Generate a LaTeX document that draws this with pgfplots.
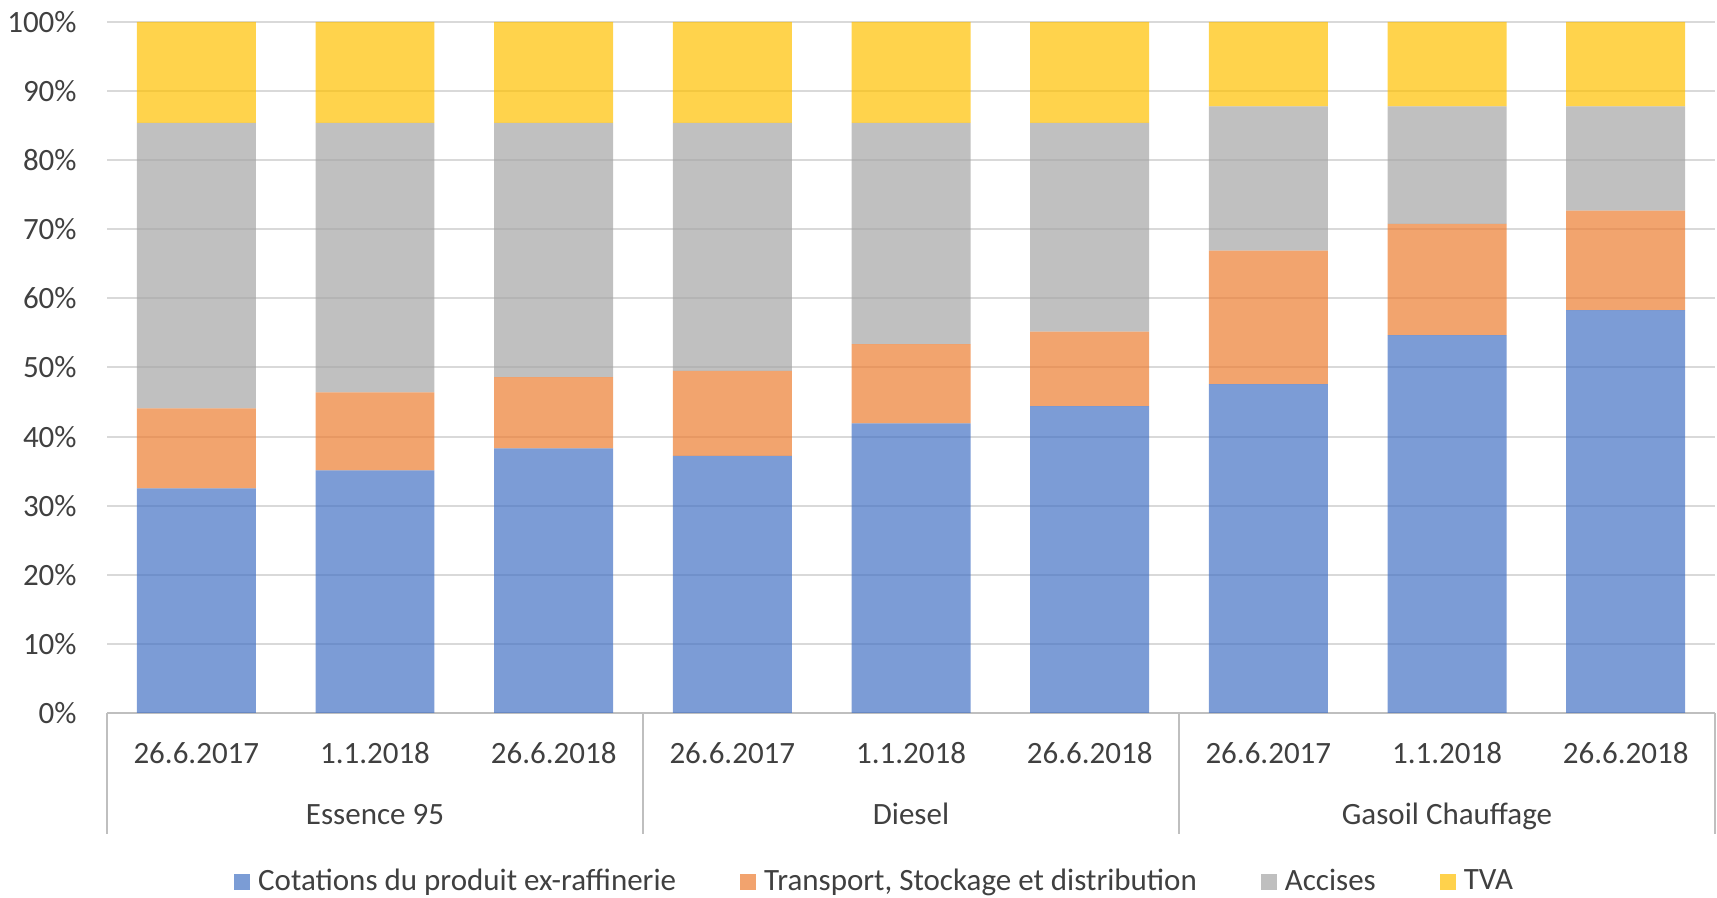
\documentclass[border=0pt]{standalone}
\usepackage{fontspec}
\setmainfont{Carlito}
\usepackage{pgfplots}
\usepackage{pgfplotstable}
\pgfplotsset{compat=1.18}
\usetikzlibrary{calc}

\definecolor{cblue}{HTML}{4472C4}
\definecolor{corange}{HTML}{ED7D31}
\definecolor{cgray}{HTML}{A5A5A5}
\definecolor{cyellow}{HTML}{FFC000}
\definecolor{gridc}{HTML}{D9D9D9}
\definecolor{axisc}{HTML}{BFBFBF}
\definecolor{txt}{HTML}{404040}

% shares in percent, stacked bottom to top
\pgfplotstableread{
x  cot   trans  acc   tva
0  32.5  11.6   41.3  14.6
1  35.1  11.3   39.0  14.6
2  38.3  10.3   36.8  14.6
3  37.2  12.3   35.9  14.6
4  41.9  11.5   32.0  14.6
5  44.4  10.8   30.2  14.6
6  47.6  19.3   20.9  12.2
7  54.7  16.1   17.0  12.2
8  58.3  14.4   15.1  12.2
}\shares

\begin{document}
\fontsize{15.5}{18}\selectfont
\begin{tikzpicture}
\begin{axis}[
    scale only axis,
    width=804pt, height=345.5pt,
    ybar stacked, bar width=0.666,
    xmin=-0.5, xmax=8.5, ymin=0, ymax=100,
    clip=false,
    xtick={0,...,8},
    xticklabels={26.6.2017,1.1.2018,26.6.2018,26.6.2017,1.1.2018,26.6.2018,26.6.2017,1.1.2018,26.6.2018},
    ytick={0,10,...,100},
    yticklabel={\pgfmathprintnumber{\tick}\%},
    /pgf/number format/assume math mode=true,
    tick style={draw=none}, major tick length=0pt,
    every tick label/.append style={text=txt},
    xticklabel style={anchor=base, yshift=-25pt},
    yticklabel style={anchor=east, inner sep=0pt, xshift=-15pt},
    ymajorgrids, grid style={gridc, line width=1pt},
    axis x line*=bottom, axis y line*=left,
    x axis line style={-, axisc, line width=1pt},
    y axis line style={draw=none},
    every axis plot/.append style={draw=none, fill opacity=0.7},
    legend columns=4,
    legend style={at={(0.478,-0.2446)}, anchor=center, draw=none, text=txt,
        /tikz/every even column/.append style={column sep=30pt}},
    legend image code/.code={\fill[#1] (0pt,-4pt) rectangle (8pt,4pt);
        \path (10pt,0pt);},
]
\addplot[fill=cblue] table[x=x, y=cot] {\shares};
\addlegendentry{Cotations du produit ex-raffinerie}
\addplot[fill=corange] table[x=x, y=trans] {\shares};
\addlegendentry{Transport, Stockage et distribution}
\addplot[fill=cgray] table[x=x, y=acc] {\shares};
\addlegendentry{Accises}
\addplot[fill=cyellow] table[x=x, y=tva] {\shares};
\addlegendentry{TVA}

% group separators below the category axis
\draw[axisc, line width=1pt] (axis cs:-0.5,0) -- ++(0pt,-60.5pt);
\draw[axisc, line width=1pt] (axis cs:2.5,0) -- ++(0pt,-60.5pt);
\draw[axisc, line width=1pt] (axis cs:5.5,0) -- ++(0pt,-60.5pt);
\draw[axisc, line width=1pt] (axis cs:8.5,0) -- ++(0pt,-60.5pt);
\node[anchor=base, yshift=-55.5pt, text=txt] at (axis cs:1,0) {Essence 95};
\node[anchor=base, yshift=-55.5pt, text=txt] at (axis cs:4,0) {Diesel};
\node[anchor=base, yshift=-55.5pt, text=txt] at (axis cs:7,0) {Gasoil Chauffage};

\coordinate (sw) at (rel axis cs:0,0);
\coordinate (ne) at (rel axis cs:1,1);
\end{axis}
\pgfresetboundingbox
\path ($(sw)+(-53.5pt,-92.5pt)$) rectangle ($(ne)+(1pt,11pt)$);
\end{tikzpicture}
\end{document}
